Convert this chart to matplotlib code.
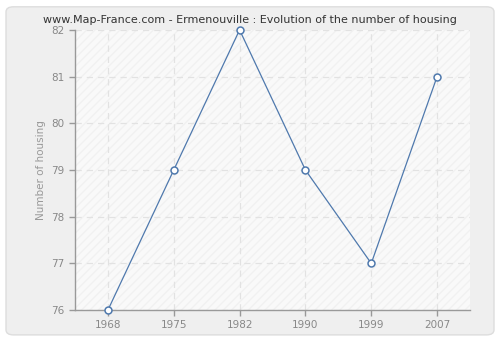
import matplotlib
matplotlib.use('Agg')
import matplotlib.pyplot as plt
from matplotlib.patches import FancyBboxPatch

years = ['1968', '1975', '1982', '1990', '1999', '2007']
housing = [76, 79, 82, 79, 77, 81]

fig = plt.figure(figsize=(5, 3.4), dpi=100)
fig.patch.set_facecolor('white')

# rounded light-gray panel behind everything
panel = FancyBboxPatch((0.012, 0.015), 0.976, 0.965,
                       boxstyle='round,pad=0,rounding_size=0.015',
                       transform=fig.transFigure, facecolor='#efefef',
                       edgecolor='#dddddd', linewidth=1, zorder=-10)
fig.patches.append(panel)

ax = fig.add_axes([0.15, 0.088, 0.79, 0.824])
ax.set_zorder(1)
ax.set_facecolor('#f9f9f9')
ax.patch.set_hatch('////')
ax.patch.set_edgecolor('#f1f1f1')
ax.patch.set_linewidth(0)

x = list(range(len(years)))
ax.plot(x, housing, color='#4f79ad', linewidth=0.9, marker='o',
        markersize=5, markerfacecolor='white', markeredgecolor='#4f79ad',
        markeredgewidth=1.1, zorder=3, clip_on=False)

ax.set_xlim(-0.5, len(years) - 0.5)
ax.set_ylim(76, 82)
ax.set_xticks(x)
ax.set_xticklabels(years)
ax.set_yticks(range(76, 83))

ax.grid(True, color='#e2e2e2', linestyle=(0, (5, 4)), linewidth=0.9)
ax.set_axisbelow(True)

for side in ['top', 'right']:
    ax.spines[side].set_visible(False)
for side in ['left', 'bottom']:
    ax.spines[side].set_color('#999999')
    ax.spines[side].set_linewidth(1)

ax.tick_params(axis='both', colors='#999999', labelcolor='#888888',
               labelsize=7.5, length=4, width=1)
ax.set_ylabel('Number of housing', color='#999999', fontsize=7.5)

fig.suptitle('www.Map-France.com - Ermenouville : Evolution of the number of housing',
             y=0.955, fontsize=8, color='#333333')

fig.savefig('out.png', dpi=100)
